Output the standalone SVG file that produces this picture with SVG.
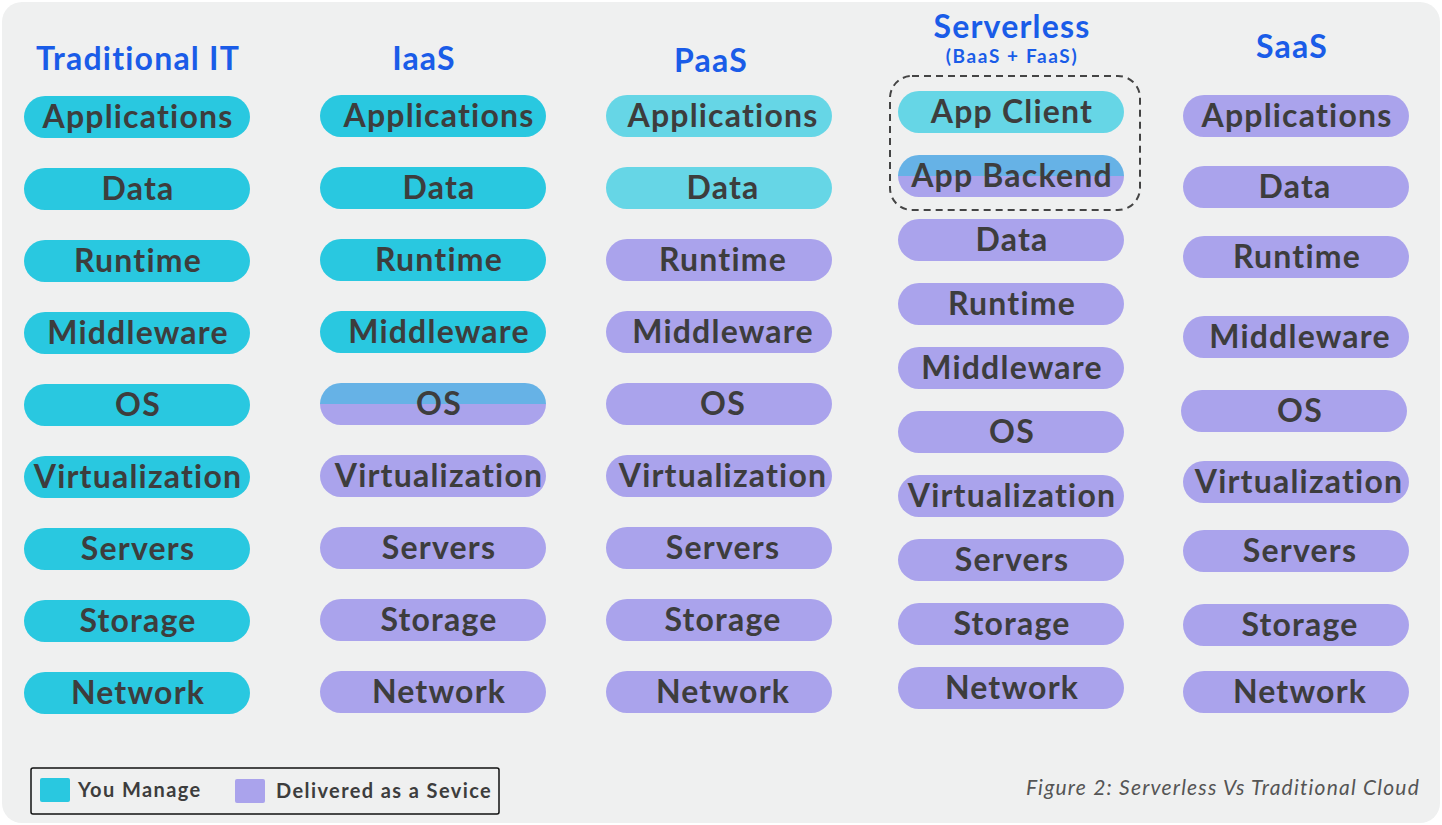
<svg xmlns="http://www.w3.org/2000/svg" width="1442" height="825" viewBox="0 0 1442 825">
<defs>
<style>
.bg{fill:#eff0f0}
.m{fill:#29c8e0}
.l{fill:#66d6e6}
.s{fill:#aaa3ec}
.t{font-family:Lato,"Open Sans",sans-serif;font-weight:700;font-size:32px;letter-spacing:1.2px;fill:#3d3d3d;text-anchor:middle}
.h{font-family:Lato,"Open Sans",sans-serif;font-weight:700;font-size:32px;letter-spacing:1.2px;fill:#1a5ce8;text-anchor:middle}
.lg{font-family:Lato,"Open Sans",sans-serif;font-weight:700;font-size:20px;letter-spacing:1.4px;fill:#3d3d3d}
.cap{font-family:Lato,"Open Sans",sans-serif;font-style:italic;font-size:21px;letter-spacing:1.2px;fill:#555;text-anchor:end}
</style>
<clipPath id="c1"><rect x="320" y="383" width="226" height="42" rx="21"/></clipPath>
<clipPath id="c2"><rect x="898" y="155" width="226" height="42" rx="21"/></clipPath>
</defs>
<rect class="bg" x="2" y="2" width="1438" height="821" rx="20"/>

<g id="col-traditional">
<text class="h" x="138" y="70">Traditional IT</text>
<g id="t-app"><rect class="m" x="24" y="96" width="226" height="42" rx="21"/><text class="t" x="138" y="128">Applications</text></g>
<g id="t-data"><rect class="m" x="24" y="168" width="226" height="42" rx="21"/><text class="t" x="138" y="200">Data</text></g>
<g id="t-runtime"><rect class="m" x="24" y="240" width="226" height="42" rx="21"/><text class="t" x="138" y="272">Runtime</text></g>
<g id="t-mw"><rect class="m" x="24" y="312" width="226" height="42" rx="21"/><text class="t" x="138" y="344">Middleware</text></g>
<g id="t-os"><rect class="m" x="24" y="384" width="226" height="42" rx="21"/><text class="t" x="138" y="416">OS</text></g>
<g id="t-virt"><rect class="m" x="24" y="456" width="226" height="42" rx="21"/><text class="t" x="138" y="488">Virtualization</text></g>
<g id="t-servers"><rect class="m" x="24" y="528" width="226" height="42" rx="21"/><text class="t" x="138" y="560">Servers</text></g>
<g id="t-storage"><rect class="m" x="24" y="600" width="226" height="42" rx="21"/><text class="t" x="138" y="632">Storage</text></g>
<g id="t-network"><rect class="m" x="24" y="672" width="226" height="42" rx="21"/><text class="t" x="138" y="704">Network</text></g>
</g>

<g id="col-iaas">
<text class="h" x="424" y="70">IaaS</text>
<g id="i-app"><rect class="m" x="320" y="95" width="226" height="42" rx="21"/><text class="t" x="439" y="127">Applications</text></g>
<g id="i-data"><rect class="m" x="320" y="167" width="226" height="42" rx="21"/><text class="t" x="439" y="199">Data</text></g>
<g id="i-runtime"><rect class="m" x="320" y="239" width="226" height="42" rx="21"/><text class="t" x="439" y="271">Runtime</text></g>
<g id="i-mw"><rect class="m" x="320" y="311" width="226" height="42" rx="21"/><text class="t" x="439" y="343">Middleware</text></g>
<g id="i-os"><g clip-path="url(#c1)"><rect fill="#66b2e6" x="320" y="383" width="226" height="21"/><rect class="s" x="320" y="404" width="226" height="21"/></g><text class="t" x="439" y="415">OS</text></g>
<g id="i-virt"><rect class="s" x="320" y="455" width="226" height="42" rx="21"/><text class="t" x="439" y="487">Virtualization</text></g>
<g id="i-servers"><rect class="s" x="320" y="527" width="226" height="42" rx="21"/><text class="t" x="439" y="559">Servers</text></g>
<g id="i-storage"><rect class="s" x="320" y="599" width="226" height="42" rx="21"/><text class="t" x="439" y="631">Storage</text></g>
<g id="i-network"><rect class="s" x="320" y="671" width="226" height="42" rx="21"/><text class="t" x="439" y="703">Network</text></g>
</g>

<g id="col-paas">
<text class="h" x="711" y="72">PaaS</text>
<g id="p-app"><rect class="l" x="606" y="95" width="226" height="42" rx="21"/><text class="t" x="723" y="127">Applications</text></g>
<g id="p-data"><rect class="l" x="606" y="167" width="226" height="42" rx="21"/><text class="t" x="723" y="199">Data</text></g>
<g id="p-runtime"><rect class="s" x="606" y="239" width="226" height="42" rx="21"/><text class="t" x="723" y="271">Runtime</text></g>
<g id="p-mw"><rect class="s" x="606" y="311" width="226" height="42" rx="21"/><text class="t" x="723" y="343">Middleware</text></g>
<g id="p-os"><rect class="s" x="606" y="383" width="226" height="42" rx="21"/><text class="t" x="723" y="415">OS</text></g>
<g id="p-virt"><rect class="s" x="606" y="455" width="226" height="42" rx="21"/><text class="t" x="723" y="487">Virtualization</text></g>
<g id="p-servers"><rect class="s" x="606" y="527" width="226" height="42" rx="21"/><text class="t" x="723" y="559">Servers</text></g>
<g id="p-storage"><rect class="s" x="606" y="599" width="226" height="42" rx="21"/><text class="t" x="723" y="631">Storage</text></g>
<g id="p-network"><rect class="s" x="606" y="671" width="226" height="42" rx="21"/><text class="t" x="723" y="703">Network</text></g>
</g>

<g id="col-serverless">
<text class="h" x="1012" y="38">Serverless</text>
<text class="h" x="1012" y="63" style="font-size:19px;letter-spacing:1.6px">(BaaS + FaaS)</text>
<rect id="s-group" x="890" y="76" width="250" height="134" rx="22" fill="none" stroke="#444" stroke-width="2" stroke-dasharray="7 5"/>
<g id="s-client"><rect class="l" x="898" y="91" width="226" height="42" rx="21"/><text class="t" x="1012" y="123">App Client</text></g>
<g id="s-backend"><g clip-path="url(#c2)"><rect fill="#66b2e6" x="898" y="155" width="226" height="21"/><rect class="s" x="898" y="176" width="226" height="21"/></g><text class="t" x="1012" y="187">App Backend</text></g>
<g id="s-data"><rect class="s" x="898" y="219" width="226" height="42" rx="21"/><text class="t" x="1012" y="251">Data</text></g>
<g id="s-runtime"><rect class="s" x="898" y="283" width="226" height="42" rx="21"/><text class="t" x="1012" y="315">Runtime</text></g>
<g id="s-mw"><rect class="s" x="898" y="347" width="226" height="42" rx="21"/><text class="t" x="1012" y="379">Middleware</text></g>
<g id="s-os"><rect class="s" x="898" y="411" width="226" height="42" rx="21"/><text class="t" x="1012" y="443">OS</text></g>
<g id="s-virt"><rect class="s" x="898" y="475" width="226" height="42" rx="21"/><text class="t" x="1012" y="507">Virtualization</text></g>
<g id="s-servers"><rect class="s" x="898" y="539" width="226" height="42" rx="21"/><text class="t" x="1012" y="571">Servers</text></g>
<g id="s-storage"><rect class="s" x="898" y="603" width="226" height="42" rx="21"/><text class="t" x="1012" y="635">Storage</text></g>
<g id="s-network"><rect class="s" x="898" y="667" width="226" height="42" rx="21"/><text class="t" x="1012" y="699">Network</text></g>
</g>

<g id="col-saas">
<text class="h" x="1292" y="58">SaaS</text>
<g id="a-app"><rect class="s" x="1183" y="95" width="226" height="42" rx="21"/><text class="t" x="1297" y="127">Applications</text></g>
<g id="a-data"><rect class="s" x="1183" y="166" width="226" height="42" rx="21"/><text class="t" x="1295" y="198">Data</text></g>
<g id="a-runtime"><rect class="s" x="1183" y="236" width="226" height="42" rx="21"/><text class="t" x="1297" y="268">Runtime</text></g>
<g id="a-mw"><rect class="s" x="1183" y="316" width="226" height="42" rx="21"/><text class="t" x="1300" y="348">Middleware</text></g>
<g id="a-os"><rect class="s" x="1181" y="390" width="226" height="42" rx="21"/><text class="t" x="1300" y="422">OS</text></g>
<g id="a-virt"><rect class="s" x="1183" y="461" width="226" height="42" rx="21"/><text class="t" x="1299" y="493">Virtualization</text></g>
<g id="a-servers"><rect class="s" x="1183" y="530" width="226" height="42" rx="21"/><text class="t" x="1300" y="562">Servers</text></g>
<g id="a-storage"><rect class="s" x="1183" y="604" width="226" height="42" rx="21"/><text class="t" x="1300" y="636">Storage</text></g>
<g id="a-network"><rect class="s" x="1183" y="671" width="226" height="42" rx="21"/><text class="t" x="1300" y="703">Network</text></g>
</g>

<g id="legend">
<rect x="31" y="768" width="468" height="46" rx="2" fill="none" stroke="#111" stroke-width="1.5"/>
<rect class="m" x="40" y="778" width="30" height="24" rx="2"/>
<text class="lg" x="78" y="797">You Manage</text>
<rect class="s" x="235" y="779" width="30" height="24" rx="2"/>
<text class="lg" x="276" y="798">Delivered as a Sevice</text>
</g>
<text id="caption" class="cap" x="1420" y="795">Figure 2: Serverless Vs Traditional Cloud</text>
<g id="connectors"/>
</svg>
